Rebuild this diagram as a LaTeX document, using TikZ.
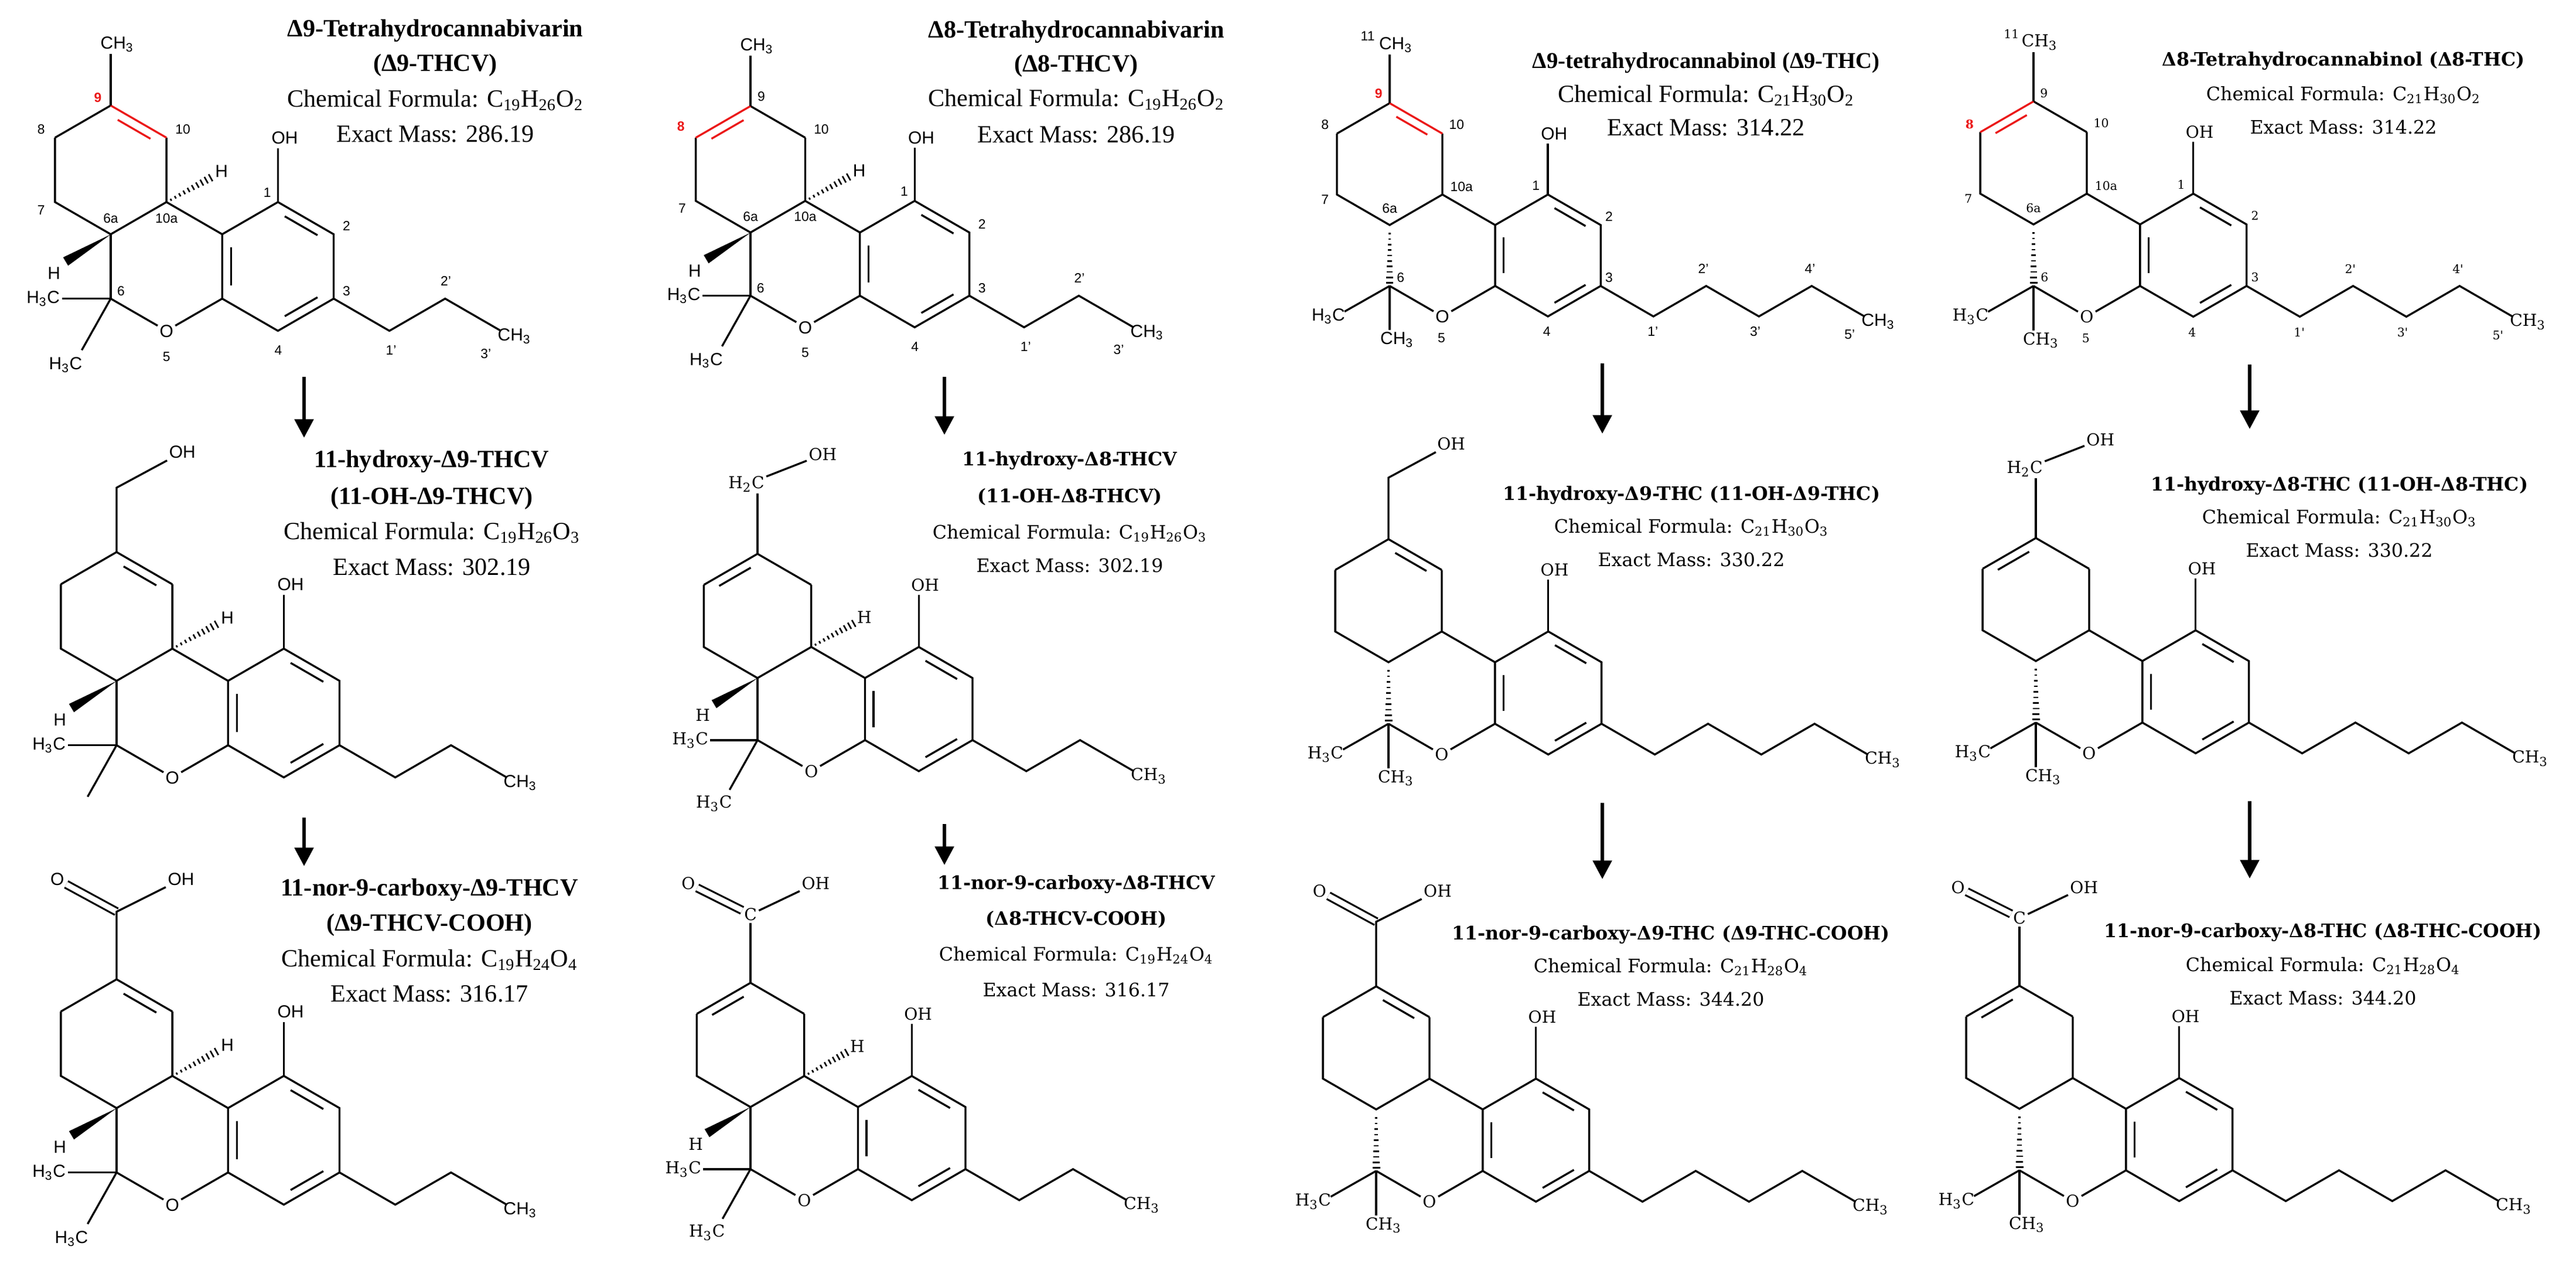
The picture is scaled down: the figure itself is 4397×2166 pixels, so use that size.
\documentclass[tikz,border=0pt]{standalone}
\usepackage{fontspec}
\setmainfont{Liberation Serif}
\setsansfont{Liberation Sans}
\newfontfamily\wideserif{DejaVu Serif}
\usetikzlibrary{calc,arrows.meta}
\definecolor{dred}{RGB}{235,25,25}
\newcommand\sansA{\sffamily\fontsize{8.5}{9}\selectfont}
\newcommand\wideA{\wideserif\fontsize{8}{9}\selectfont}
\newcommand\sansN{\sffamily\fontsize{6.5}{7}\selectfont}
\newcommand\wideN{\wideserif\fontsize{5.8}{6}\selectfont}
\let\atomfont\sansA
\let\numfont\sansN
\tikzset{
 bond/.style={line width=0.95pt},
 atom/.style={font=\atomfont, inner sep=0.8pt},
 num/.style={font=\numfont, inner sep=0pt},
 rnum/.style={font=\numfont\bfseries, inner sep=0pt, text=dred},
 ttb/.style={font=\fontsize{12}{13}\selectfont\bfseries},
 ttn/.style={font=\fontsize{12}{13}\selectfont},
 wtb/.style={font=\wideserif\fontsize{9}{10}\selectfont\bfseries},
 wtn/.style={font=\wideserif\fontsize{9}{10}\selectfont},
 arr/.style={line width=1.8pt,-{Triangle[length=9pt,width=9pt]}}
}
\newcommand\dbl[4]{%
 \path ($(#1)!0.15!(#2)$) coordinate (dA) ($(#2)!0.15!(#1)$) coordinate (dB);
 \draw[bond,#4] ($(dA)!0.16!(#3)$) -- ($(dB)!0.16!(#3)$);}
% hashed wedge between numeric points (local units)
\newcommand\hashxy[4]{%
 \pgfmathsetmacro\hdx{#3-#1}\pgfmathsetmacro\hdy{#4-#2}%
 \pgfmathsetmacro\hl{sqrt(\hdx*\hdx+\hdy*\hdy)}%
 \pgfmathsetmacro\hnx{-\hdy/\hl}\pgfmathsetmacro\hny{\hdx/\hl}%
 \foreach \t in {0.1,0.2,...,1.0}{%
  \pgfmathsetmacro\px{#1+\t*\hdx}\pgfmathsetmacro\py{#2+\t*\hdy}%
  \pgfmathsetmacro\w{0.012+0.05*\t}%
  \draw[line width=0.75pt] (\px+\w*\hnx,\py+\w*\hny) -- (\px-\w*\hnx,\py-\w*\hny);}}
\newcommand\wedgexy[4]{%
 \pgfmathsetmacro\hdx{#3-#1}\pgfmathsetmacro\hdy{#4-#2}%
 \pgfmathsetmacro\hl{sqrt(\hdx*\hdx+\hdy*\hdy)}%
 \pgfmathsetmacro\hnx{-\hdy/\hl*0.075}\pgfmathsetmacro\hny{\hdx/\hl*0.075}%
 \fill (#1,#2) -- (#3+\hnx,#4+\hny) -- (#3-\hnx,#4-\hny) -- cycle;}
\newcommand\RingCore[2]{%
 \coordinate (c9) at (0,0);
 \coordinate (c10) at (0.866,0.5);
 \coordinate (c10a) at (0.866,1.5);
 \coordinate (c6a) at (0,2);
 \coordinate (c7) at (-0.866,1.5);
 \coordinate (c8) at (-0.866,0.5);
 \coordinate (c10b) at (1.732,2);
 \coordinate (c1) at (2.598,1.5);
 \coordinate (c2) at (3.464,2);
 \coordinate (c3) at (3.464,3);
 \coordinate (c4) at (2.598,3.5);
 \coordinate (c4a) at (1.732,3);
 \coordinate (c6) at (0,3);
 \coordinate (ca) at (0,1);
 \coordinate (cc) at (2.598,2.5);
 \node[atom] (o5) at (0.866,3.5) {O};
 \draw[bond] (c10)--(c10a)--(c6a)--(c7)--(c8);
 \draw[bond] (c10a)--(c10b)--(c1)--(c2)--(c3)--(c4)--(c4a)--(c10b);
 \draw[bond] (c4a)--(o5)--(c6);
 \ifnum#1=9 \draw[bond] (c8)--(c9); \draw[bond,#2] (c9)--(c10); \dbl{c9}{c10}{ca}{#2}%
 \else \draw[bond] (c9)--(c10); \draw[bond,#2] (c8)--(c9); \dbl{c8}{c9}{ca}{#2}\fi
 \dbl{c1}{c2}{cc}{black}\dbl{c3}{c4}{cc}{black}\dbl{c10b}{c4a}{cc}{black}
 \coordinate (ohe) at (2.598,0.66);
 \node[atom] (ohA) at (2.7,0.5) {OH};
 \draw[bond] (c1)--(ohe);}
\newcommand\StereoV[1]{%
 \node[atom] (hat) at (1.72,1.02) {H};
 \hashxy{0.866}{1.5}{1.55}{1.12}
 \node[atom] (hbt) at (-0.88,2.6) {H};
 \wedgexy{0}{2}{-0.7}{2.42}
 \draw[bond] (c6a)--(c6);
 \node[atom,anchor=east] (m1) at (-0.76,3) {H\textsubscript{3}C};
 \draw[bond] (c6)--(m1.east);
 \coordinate (m2e) at (-0.45,3.8);
 \draw[bond] (c6)--(m2e);
 \ifnum#1=1 \node[atom] (m2) at (-0.7,4.02) {H\textsubscript{3}C};\fi}
\newcommand\StereoT{%
 \hashxy{0}{2.05}{0}{2.95}
 \node[atom,anchor=east] (m1) at (-0.7,3.5) {H\textsubscript{3}C};
 \coordinate (m1e) at (-0.74,3.42);
 \draw[bond] (c6)--(m1e);
 \coordinate (m2e) at (0,3.72);
 \node[atom,anchor=north] (m2) at (0.12,3.72) {CH\textsubscript{3}};
 \draw[bond] (c6)--(m2e);}
\newcommand\Chain[1]{%
 \coordinate (s1) at (4.33,3.5); \coordinate (s2) at (5.196,3); \coordinate (s3) at (6.062,3.5);
 \coordinate (s4) at (6.928,3); \coordinate (s5) at (7.794,3.5);
 \ifnum#1=3 \draw[bond] (c3)--(s1)--(s2)--(s3);
  \node[atom,anchor=west] (tme) at ($(s3)+(-0.08,0.08)$) {CH\textsubscript{3}};%
 \else \draw[bond] (c3)--(s1)--(s2)--(s3)--(s4)--(s5);
  \node[atom,anchor=west] (tme) at ($(s5)+(-0.08,0.08)$) {CH\textsubscript{3}};\fi}
\newcommand\SubMe{\coordinate (se) at (0,-0.8); \draw[bond] (c9)--(se);
 \node[atom,anchor=south] (sub) at ($(se)+(0.1,0)$) {CH\textsubscript{3}};}
\newcommand\SubOH{\coordinate (c11) at (0,-1); \node[atom] (sub) at (1.02,-1.55) {OH};
 \draw[bond] (c9)--(c11)--(sub);}
\newcommand\SubOHx{\node[atom] (c11) at (-0.18,-1.12) {H\textsubscript{2}C}; \coordinate (c11b) at (0,-0.97);
 \draw[bond] (c9)--(c11b); \node[atom] (sub) at (1.05,-1.6) {OH}; \draw[bond] (c11)--(sub);}
\newcommand\SubCOOH{\coordinate (c11) at (0,-1.05); \node[atom] (oa) at (-0.92,-1.55) {O};
 \node[atom] (sub) at (1.0,-1.55) {OH};
 \draw[line width=0.9pt,double distance=2.6pt] (c11)--(oa);
 \draw[bond] (c9)--(c11)--(sub);}
\newcommand\SubCOOHx{\node[atom] (c11) at (0,-1.1) {C}; \node[atom] (oa) at (-1.0,-1.6) {O};
 \node[atom] (sub) at (1.05,-1.6) {OH};
 \draw[line width=0.9pt,double distance=2.6pt] (c11)--(oa);
 \draw[bond] (c9)--(c11); \draw[bond] (c11)--(sub);}
\newcommand\NumsV{%
 \node[num] at (1.12,0.37) {10}; \node[num] at (-1.08,1.62) {7};
 \node[num] at (0,1.75) {6a}; \node[num] at (0.866,1.75) {10a};
 \node[num] at (2.43,1.35) {1}; \node[num] at (3.66,1.87) {2}; \node[num] at (3.66,2.88) {3};
 \node[num] at (2.6,3.8) {4}; \node[num] at (0.866,3.9) {5}; \node[num] at (0.16,2.88) {6};
 \node[num] at (4.35,3.8) {1'}; \node[num] at (5.2,2.72) {2'}; \node[num] at (5.82,3.85) {3'};}
\newcommand\NumsT{%
 \node[num] at (1.1,0.35) {10}; \node[num] at (-1.06,1.58) {7};
 \node[num] at (0,1.73) {6a}; \node[num] at (1.18,1.37) {10a};
 \node[num] at (2.4,1.35) {1}; \node[num] at (3.6,1.86) {2}; \node[num] at (3.6,2.86) {3};
 \node[num] at (2.58,3.75) {4}; \node[num] at (0.85,3.85) {5}; \node[num] at (0.18,2.86) {6};
 \node[num] at (4.32,3.75) {1'}; \node[num] at (5.15,2.72) {2'}; \node[num] at (6.0,3.75) {3'};
 \node[num] at (6.9,2.72) {4'}; \node[num] at (7.55,3.8) {5'}; \node[num] at (-0.36,-1.1) {11};}
\begin{document}
\begin{tikzpicture}[x=0.01cm,y=-0.01cm]
\useasboundingbox (0,0) rectangle (4397,2166);
% ---------- column 1 ----------
\begin{scope}[shift={(189,180)},scale=110,name prefix=A-]
 \RingCore{9}{dred}\StereoV{1}\Chain{3}\SubMe\NumsV
 \node[num] at (-1.08,0.37) {8}; \node[rnum] at (-0.2,-0.12) {9};
\end{scope}
\begin{scope}[shift={(199,942)},scale=110,name prefix=B-]
 \RingCore{9}{black}\StereoV{0}\Chain{3}\SubOH
\end{scope}
\begin{scope}[shift={(199,1671)},scale=110,name prefix=C-]
 \RingCore{9}{black}\StereoV{1}\Chain{3}\SubCOOH
\end{scope}
% ---------- column 2 ----------
\begin{scope}[shift={(1281,181)},scale=108,name prefix=D-]
 \RingCore{8}{dred}\StereoV{1}\Chain{3}\SubMe\NumsV
 \node[rnum] at (-1.1,0.32) {8}; \node[num] at (0.17,-0.15) {9};
\end{scope}
\begin{scope}[shift={(1293,945)},scale=106,name prefix=E-]
 \let\atomfont\wideA
 \RingCore{8}{black}\StereoV{1}\Chain{3}\SubOHx
\end{scope}
\begin{scope}[shift={(1281,1677)},scale=106,name prefix=F-]
 \let\atomfont\wideA
 \RingCore{8}{black}\StereoV{1}\Chain{3}\SubCOOHx
\end{scope}
% ---------- column 3 ----------
\begin{scope}[shift={(2372,176)},scale=104,name prefix=G-]
 \RingCore{9}{dred}\StereoT\Chain{5}\SubMe\NumsT
 \node[num] at (-1.06,0.35) {8}; \node[rnum] at (-0.18,-0.16) {9};
\end{scope}
\begin{scope}[shift={(2370,920)},scale=105,name prefix=H-]
 \let\atomfont\wideA
 \RingCore{9}{black}\StereoT\Chain{5}\SubOH
\end{scope}
\begin{scope}[shift={(2349,1683)},scale=105,name prefix=I-]
 \let\atomfont\wideA
 \RingCore{9}{black}\StereoT\Chain{5}\SubCOOH
\end{scope}
% ---------- column 4 ----------
\begin{scope}[shift={(3471,173)},scale=105,name prefix=J-]
 \let\atomfont\wideA \let\numfont\wideN
 \RingCore{8}{dred}\StereoT\Chain{5}\SubMe\NumsT
 \node[rnum] at (-1.04,0.37) {8}; \node[num] at (0.17,-0.13) {9};
\end{scope}
\begin{scope}[shift={(3475,918)},scale=105,name prefix=K-]
 \let\atomfont\wideA
 \RingCore{8}{black}\StereoT\Chain{5}\SubOHx
\end{scope}
\begin{scope}[shift={(3447,1682)},scale=105,name prefix=L-]
 \let\atomfont\wideA
 \RingCore{8}{black}\StereoT\Chain{5}\SubCOOHx
\end{scope}
% ---------- titles ----------
\node[ttb] (t1) at (743,52) {Δ9-Tetrahydrocannabivarin};
\node[ttb] (t1b) at (743,111) {(Δ9-THCV)};
\node[ttn] (f1) at (743,171) {Chemical Formula: C\textsubscript{19}H\textsubscript{26}O\textsubscript{2}};
\node[ttn] (x1) at (743,229) {Exact Mass: 286.19};
\node[ttb] (t2) at (737,787) {11-hydroxy-Δ9-THCV};
\node[ttb] (t2b) at (737,850) {(11-OH-Δ9-THCV)};
\node[ttn] (f2) at (737,909) {Chemical Formula: C\textsubscript{19}H\textsubscript{26}O\textsubscript{3}};
\node[ttn] (x2) at (737,968) {Exact Mass: 302.19};
\node[ttb] (t3) at (733,1518) {11-nor-9-carboxy-Δ9-THCV};
\node[ttb] (t3b) at (733,1578) {(Δ9-THCV-COOH)};
\node[ttn] (f3) at (733,1638) {Chemical Formula: C\textsubscript{19}H\textsubscript{24}O\textsubscript{4}};
\node[ttn] (x3) at (733,1696) {Exact Mass: 316.17};
\node[ttb] (t4) at (1837,54) {Δ8-Tetrahydrocannabivarin};
\node[ttb] (t4b) at (1837,112) {(Δ8-THCV)};
\node[ttn] (f4) at (1837,170) {Chemical Formula: C\textsubscript{19}H\textsubscript{26}O\textsubscript{2}};
\node[ttn] (x4) at (1837,230) {Exact Mass: 286.19};
\node[wtb] (t5) at (1826,786) {11-hydroxy-Δ8-THCV};
\node[wtb] (t5b) at (1826,848) {(11-OH-Δ8-THCV)};
\node[wtn] (f5) at (1826,910) {Chemical Formula: C\textsubscript{19}H\textsubscript{26}O\textsubscript{3}};
\node[wtn] (x5) at (1826,965) {Exact Mass: 302.19};
\node[wtb] (t6) at (1837,1509) {11-nor-9-carboxy-Δ8-THCV};
\node[wtb] (t6b) at (1837,1569) {(Δ8-THCV-COOH)};
\node[wtn] (f6) at (1837,1630) {Chemical Formula: C\textsubscript{19}H\textsubscript{24}O\textsubscript{4}};
\node[wtn] (x6) at (1837,1689) {Exact Mass: 316.17};
\node[font=\fontsize{11}{12}\selectfont\bfseries] (t7) at (2912,107) {Δ9-tetrahydrocannabinol (Δ9-THC)};
\node[ttn] (f7) at (2912,163) {Chemical Formula: C\textsubscript{21}H\textsubscript{30}O\textsubscript{2}};
\node[ttn] (x7) at (2912,218) {Exact Mass: 314.22};
\node[wtb] (t8) at (2887,845) {11-hydroxy-Δ9-THC (11-OH-Δ9-THC)};
\node[wtn] (f8) at (2887,900) {Chemical Formula: C\textsubscript{21}H\textsubscript{30}O\textsubscript{3}};
\node[wtn] (x8) at (2887,955) {Exact Mass: 330.22};
\node[wtb] (t9) at (2852,1595) {11-nor-9-carboxy-Δ9-THC (Δ9-THC-COOH)};
\node[wtn] (f9) at (2852,1650) {Chemical Formula: C\textsubscript{21}H\textsubscript{28}O\textsubscript{4}};
\node[wtn] (x9) at (2852,1705) {Exact Mass: 344.20};
\node[wtb] (t10) at (4000,104) {Δ8-Tetrahydrocannabinol (Δ8-THC)};
\node[wtn] (f10) at (4000,162) {Chemical Formula: C\textsubscript{21}H\textsubscript{30}O\textsubscript{2}};
\node[wtn] (x10) at (4000,217) {Exact Mass: 314.22};
\node[wtb] (t11) at (3993,829) {11-hydroxy-Δ8-THC (11-OH-Δ8-THC)};
\node[wtn] (f11) at (3993,884) {Chemical Formula: C\textsubscript{21}H\textsubscript{30}O\textsubscript{3}};
\node[wtn] (x11) at (3993,939) {Exact Mass: 330.22};
\node[wtb] (t12) at (3965,1591) {11-nor-9-carboxy-Δ8-THC (Δ8-THC-COOH)};
\node[wtn] (f12) at (3965,1648) {Chemical Formula: C\textsubscript{21}H\textsubscript{28}O\textsubscript{4}};
\node[wtn] (x12) at (3965,1703) {Exact Mass: 344.20};
% ---------- arrows ----------
\coordinate (a1s) at (519,643); \coordinate (a1e) at (519,747);
\coordinate (a2s) at (519,1395); \coordinate (a2e) at (519,1478);
\coordinate (a3s) at (1612,643); \coordinate (a3e) at (1612,742);
\coordinate (a4s) at (1612,1406); \coordinate (a4e) at (1612,1476);
\coordinate (a5s) at (2735,620); \coordinate (a5e) at (2735,740);
\coordinate (a6s) at (2735,1370); \coordinate (a6e) at (2735,1500);
\coordinate (a7s) at (3840,622); \coordinate (a7e) at (3840,732);
\coordinate (a8s) at (3840,1367); \coordinate (a8e) at (3840,1499);
\foreach \i in {1,...,8} \draw[arr] (a\i s) -- (a\i e);
\end{tikzpicture}
\end{document}
